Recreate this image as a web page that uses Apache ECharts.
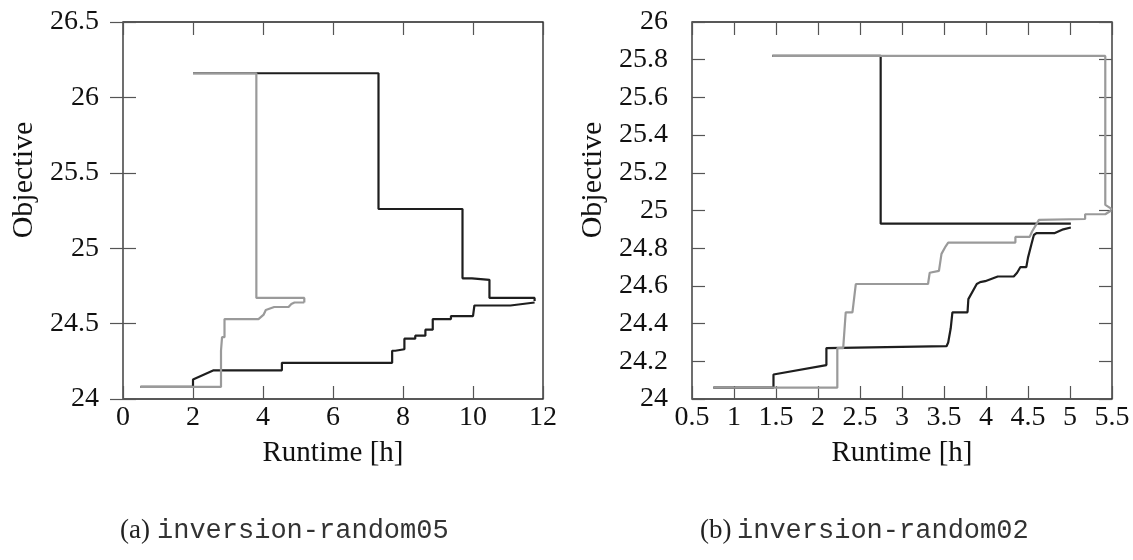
<!DOCTYPE html>
<html>
<head>
<meta charset="utf-8">
<script src="https://cdn.jsdelivr.net/npm/echarts@6/dist/echarts.min.js"></script>
<style>
  html, body { margin: 0; padding: 0; background: #fff; }
  #chart { width: 1133px; height: 560px; }
</style>
</head>
<body>
<div id="chart"></div>
<script>
  // (a) inversion-random05
  const aBlackHiX = [2.0, 7.30, 7.30, 9.70, 9.70, 9.97, 9.97, 10.47, 10.47, 11.76, 11.76];
  const aBlackHiY = [26.16, 26.16, 25.26, 25.26, 24.80, 24.80, 24.79, 24.79, 24.67, 24.67, 24.65];
  const aBlackLoX = [0.5, 2.0, 2.0, 2.59, 4.54, 4.54, 7.69, 7.69, 7.78, 7.78, 8.04, 8.04, 8.35, 8.35, 8.64, 8.64, 8.85, 8.85, 9.37, 9.37, 10.0, 10.04, 11.07, 11.07, 11.76];
  const aBlackLoY = [24.08, 24.08, 24.13, 24.19, 24.19, 24.24, 24.24, 24.32, 24.32, 24.33, 24.33, 24.40, 24.40, 24.42, 24.42, 24.46, 24.46, 24.53, 24.53, 24.55, 24.55, 24.62, 24.62, 24.63, 24.64];
  const aGrayHiX = [2.0, 3.81, 3.81, 5.18, 5.18];
  const aGrayHiY = [26.16, 26.16, 24.67, 24.67, 24.64];
  const aGrayLoX = [0.5, 2.80, 2.80, 2.83, 2.83, 2.90, 2.90, 3.87, 4.02, 4.08, 4.32, 4.73, 4.81, 4.90, 5.18];
  const aGrayLoY = [24.08, 24.08, 24.32, 24.32, 24.41, 24.41, 24.53, 24.53, 24.56, 24.59, 24.61, 24.61, 24.63, 24.64, 24.64];

  // (b) inversion-random02
  const bBlackHiX = [1.456, 2.746, 2.746, 5.01];
  const bBlackHiY = [25.82, 25.82, 24.93, 24.93];
  const bBlackLoX = [0.754, 1.47, 1.47, 2.10, 2.10, 3.53, 3.55, 3.58, 3.60, 3.78, 3.79, 3.89, 3.93, 3.99, 4.01, 4.14, 4.33, 4.37, 4.41, 4.48, 4.50, 4.54, 4.57, 4.60, 4.82, 4.92, 5.01];
  const bBlackLoY = [24.06, 24.06, 24.13, 24.18, 24.27, 24.28, 24.30, 24.375, 24.46, 24.46, 24.53, 24.61, 24.62, 24.625, 24.635, 24.65, 24.65, 24.67, 24.70, 24.70, 24.75, 24.82, 24.87, 24.88, 24.88, 24.90, 24.91];
  const bGrayHiX = [1.456, 5.42, 5.42, 5.49, 5.49];
  const bGrayHiY = [25.82, 25.82, 25.03, 25.01, 25.00];
  const bGrayLoX = [0.754, 2.23, 2.23, 2.30, 2.33, 2.41, 2.45, 3.31, 3.33, 3.44, 3.47, 3.52, 3.55, 4.35, 4.35, 4.52, 4.55, 4.59, 4.63, 5.18, 5.18, 5.42, 5.49];
  const bGrayLoY = [24.06, 24.06, 24.27, 24.27, 24.46, 24.46, 24.61, 24.61, 24.67, 24.68, 24.77, 24.81, 24.83, 24.83, 24.86, 24.86, 24.89, 24.92, 24.95, 24.955, 24.98, 24.98, 25.00];

  const captions = ["inversion-random05", "inversion-random02"];

  const serif = "'Liberation Serif', serif";
  const black = "#1e1e1e";
  const gray = "#9a9a9a";

  function pairs(xs, ys) {
    return xs.map((x, i) => [x, ys[i]]);
  }

  function line(data, color, g) {
    return {
      type: "line",
      xAxisIndex: g * 2,
      yAxisIndex: g * 2,
      data,
      symbol: "none",
      silent: true,
      lineStyle: { color, width: 2.2 },
    };
  }

  function xAxes(g, min, max, interval) {
    const base = {
      gridIndex: g,
      type: "value",
      min, max, interval,
      axisLine: { show: false },
      axisTick: { inside: true, length: 13, lineStyle: { color: "#555", width: 1.2 } },
      splitLine: { show: false },
    };
    return [
      Object.assign({}, base, {
        position: "bottom",
        axisLabel: { fontFamily: serif, fontSize: 28, color: "#111", margin: 5 },
        name: "Runtime [h]",
        nameLocation: "middle",
        nameGap: 40,
        nameTextStyle: { fontFamily: serif, fontSize: 29, color: "#111" },
      }),
      Object.assign({}, base, { position: "top", axisLabel: { show: false } }),
    ];
  }

  function yAxes(g, min, max, interval) {
    const base = {
      gridIndex: g,
      type: "value",
      min, max, interval,
      axisLine: { show: false },
      axisTick: { inside: true, length: 13, lineStyle: { color: "#555", width: 1.2 } },
      splitLine: { show: false },
    };
    return [
      Object.assign({}, base, {
        position: "left",
        axisLabel: { fontFamily: serif, fontSize: 28, color: "#111", margin: 24 },
      }),
      Object.assign({}, base, { position: "right", axisLabel: { show: false } }),
    ];
  }

  const gridStyle = { show: true, borderColor: "#222", borderWidth: 1.3, backgroundColor: "transparent" };

  const option = {
    animation: false,
    grid: [
      Object.assign({ left: 123, right: 590, top: 22, bottom: 161 }, gridStyle),
      Object.assign({ left: 692, right: 21, top: 22, bottom: 161 }, gridStyle),
    ],
    xAxis: [...xAxes(0, 0, 12, 2), ...xAxes(1, 0.5, 5.5, 0.5)],
    yAxis: [...yAxes(0, 24, 26.5, 0.5), ...yAxes(1, 24, 26, 0.2)],
    series: [
      line(pairs(aBlackHiX, aBlackHiY), black, 0),
      line(pairs(aBlackLoX, aBlackLoY), black, 0),
      line(pairs(aGrayHiX, aGrayHiY), gray, 0),
      line(pairs(aGrayLoX, aGrayLoY), gray, 0),
      line(pairs(bBlackHiX, bBlackHiY), black, 1),
      line(pairs(bBlackLoX, bBlackLoY), black, 1),
      line(pairs(bGrayHiX, bGrayHiY), gray, 1),
      line(pairs(bGrayLoX, bGrayLoY), gray, 1),
    ],
    graphic: [
      // y axis names
      { type: "text", x: 24, y: 180, rotation: Math.PI / 2,
        style: { text: "Objective", font: "30px " + serif, fill: "#111", textAlign: "center", textVerticalAlign: "middle" } },
      { type: "text", x: 593, y: 180, rotation: Math.PI / 2,
        style: { text: "Objective", font: "30px " + serif, fill: "#111", textAlign: "center", textVerticalAlign: "middle" } },
      // captions
      { type: "text", x: 120, y: 531,
        style: { text: "(a)", font: "27px " + serif, fill: "#222", textVerticalAlign: "middle" } },
      { type: "text", x: 157, y: 531,
        style: { text: captions[0], font: "27px 'Liberation Mono', monospace", fill: "#333", textVerticalAlign: "middle" } },
      { type: "text", x: 700, y: 531,
        style: { text: "(b)", font: "27px " + serif, fill: "#222", textVerticalAlign: "middle" } },
      { type: "text", x: 737, y: 531,
        style: { text: captions[1], font: "27px 'Liberation Mono', monospace", fill: "#333", textVerticalAlign: "middle" } },
    ],
  };

  const myChart = echarts.init(document.getElementById("chart"));
  myChart.setOption(option);
</script>
</body>
</html>
